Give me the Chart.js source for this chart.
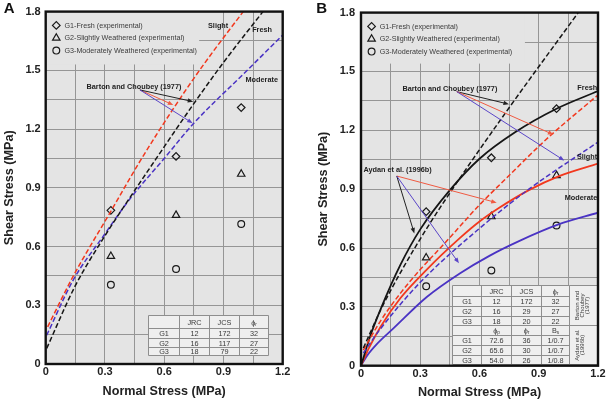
<!DOCTYPE html>
<html>
<head>
<meta charset="utf-8">
<script src="https://cdn.jsdelivr.net/npm/chart.js@4.4.1/dist/chart.umd.min.js"></script>
<style>
  html, body { margin: 0; padding: 0; background: #fff; }
  #wrap { position: relative; width: 609px; height: 401px; overflow: hidden; }
  canvas { position: absolute; top: 0; }
  #chartA { left: 0; }
  #chartB { left: 305px; }
</style>
</head>
<body>
<div id="wrap">
  <canvas id="chartA" width="305" height="401"></canvas>
  <canvas id="chartB" width="304" height="401"></canvas>
</div>
<script>
// experimental points (same in both panels)
const normalX = [0.33, 0.66, 0.99];
const g1Fresh = [0.785, 1.06, 1.31];
const g2Slight = [0.55, 0.76, 0.97];
const g3Moderate = [0.405, 0.485, 0.715];

// panel A - Barton and Choubey (1977)
const bcFreshAx = [0.005, 0.15, 0.30, 0.42, 0.56, 0.75, 0.90, 1.10];
const bcFreshAy = [0.08, 0.40, 0.655, 0.84, 1.05, 1.33, 1.54, 1.80];
const bcSlightAx = [0.01, 0.14, 0.33, 0.48, 0.65, 0.80, 1.0];
const bcSlightAy = [0.19, 0.45, 0.78, 1.04, 1.31, 1.53, 1.80];
const bcModAx = [0.005, 0.14, 0.30, 0.42, 0.60, 0.75, 1.0, 1.2];
const bcModAy = [0.147, 0.43, 0.665, 0.835, 1.05, 1.23, 1.48, 1.68];

// panel B - Barton and Choubey (dashed) and Aydan et al. (solid)
const bcFreshBx = [0.012, 0.1, 0.2, 0.333, 0.5, 0.75, 1.1];
const bcFreshBy = [0.09, 0.285, 0.475, 0.70, 0.955, 1.315, 1.8];
const bcSlightBx = [0.012, 0.1, 0.2, 0.3, 0.42, 0.6, 0.72, 0.95, 1.2];
const bcSlightBy = [0.08, 0.23, 0.37, 0.49, 0.62, 0.82, 0.94, 1.165, 1.38];
const bcModBx = [0.012, 0.1, 0.3, 0.6, 0.85, 1.2];
const bcModBy = [0.065, 0.19, 0.425, 0.70, 0.9, 1.14];
const ayFreshX = [0, 0.05, 0.1, 0.2, 0.3, 0.45, 0.6, 0.78, 0.99, 1.2];
const ayFreshY = [0, 0.16, 0.29, 0.515, 0.695, 0.895, 1.055, 1.19, 1.31, 1.40];
const aySlightX = [0, 0.04, 0.1, 0.2, 0.333, 0.5, 0.6, 0.7, 0.85, 1.0, 1.2];
const aySlightY = [0, 0.09, 0.2, 0.345, 0.49, 0.65, 0.735, 0.805, 0.895, 0.965, 1.03];
const ayModX = [0, 0.03, 0.08, 0.164, 0.333, 0.5, 0.65, 0.8, 1.0, 1.2];
const ayModY = [0, 0.05, 0.11, 0.19, 0.35, 0.47, 0.56, 0.635, 0.72, 0.78];

// parameter tables
const groups = ["G1", "G2", "G3"];
const jrc = [12, 16, 18];
const jcsA = [172, 117, 79];
const jcsB = [172, 29, 20];
const phiR = [32, 27, 22];
const aydanPhiP = ["72.6", "65.6", "54.0"];
const aydanPhi = [36, 30, 26];
const aydanB = ["1/0.7", "1/0.7", "1/0.8"];

const FONT = "Arial, 'Liberation Sans', Helvetica, sans-serif";
const corVermelho = "#f2381e";
const corAzul = "#4a33c4";
const corPreto = "#161616";
const fundo = "#e4e4e4";

const pts = (xs, ys) => xs.map((v, i) => ({ x: v, y: ys[i] }));

function curva(xs, ys, cor, tracejada) {
  return {
    data: pts(xs, ys),
    showLine: true,
    borderColor: cor,
    borderWidth: tracejada ? 1.5 : 1.8,
    borderDash: tracejada ? [5, 2.5] : [],
    pointRadius: 0,
    fill: false,
    cubicInterpolationMode: "monotone",
  };
}

function pontos(ys, estilo, raio) {
  return {
    data: pts(normalX, ys),
    showLine: false,
    pointStyle: estilo,
    pointRadius: raio,
    pointBorderColor: "#1a1a1a",
    pointBackgroundColor: "rgba(0,0,0,0)",
    pointBorderWidth: 1.2,
  };
}

const pontosExp = () => [
  pontos(g1Fresh, "rectRot", 3.8),
  pontos(g2Slight, "triangle", 4.3),
  pontos(g3Moderate, "circle", 3.4),
];

const legendas = [
  ["rectRot", 3.8, "G1-Fresh (experimental)"],
  ["triangle", 4.3, "G2-Slightly Weathered (experimental)"],
  ["circle", 3.4, "G3-Moderately Weathered (experimental)"],
];

// decorations per panel (positions in data units)
const decor = {
  chartA: {
    letra: "A", letraX: 9.2,
    caixaLegenda: [0.777, 1.53],
    tabela: {
      cols: [0.52, 0.674, 0.825, 0.977, 1.124],
      rows: [0.249, 0.186, 0.135, 0.088, 0.046],
      cells: [["", "JRC", "JCS", "ϕ_r"]].concat(groups.map((g, i) => [g, jrc[i], jcsA[i], phiR[i]])),
      lado: [],
    },
    setas: [
      { de: [0.477, 1.40], para: [0.646, 1.323], cor: "#f05a42" },
      { de: [0.477, 1.40], para: [0.747, 1.34], cor: "#222" },
      { de: [0.477, 1.40], para: [0.744, 1.23], cor: "#5b46c8" },
    ],
    textos: [
      { t: "Barton and Choubey (1977)", x: 0.447, y: 1.416, a: "center" },
      { t: "Slight", x: 0.873, y: 1.724, a: "center" },
      { t: "Fresh", x: 1.146, y: 1.704, a: "right" },
      { t: "Moderate", x: 1.176, y: 1.45, a: "right" },
    ],
  },
  chartB: {
    letra: "B", letraX: 16.7,
    caixaLegenda: [0.83, 1.54],
    tabela: {
      cols: [0.459, 0.606, 0.758, 0.91, 1.055, 1.199],
      rows: [0.409, 0.355, 0.306, 0.255, 0.205, 0.156, 0.105, 0.054, 0.009],
      cells: [["", "JRC", "JCS", "ϕ_r"]]
        .concat(groups.map((g, i) => [g, jrc[i], jcsB[i], phiR[i]]))
        .concat([["", "ϕ_p", "ϕ_r", "B_s"]])
        .concat(groups.map((g, i) => [g, aydanPhiP[i], aydanPhi[i], aydanB[i]])),
      lado: [
        { r0: 0, r1: 4, linhas: ["Barton and", "Choubey", "(1977)"] },
        { r0: 4, r1: 8, linhas: ["Aydan et al.", "(1996b)"] },
      ],
    },
    setas: [
      { de: [0.485, 1.397], para: [0.749, 1.333], cor: "#222" },
      { de: [0.485, 1.397], para: [0.974, 1.178], cor: "#f05a42" },
      { de: [0.485, 1.397], para: [1.029, 1.046], cor: "#5b46c8" },
      { de: [0.181, 0.967], para: [0.687, 0.831], cor: "#f05a42" },
      { de: [0.181, 0.967], para: [0.27, 0.674], cor: "#222" },
      { de: [0.181, 0.967], para: [0.496, 0.522], cor: "#5b46c8" },
    ],
    textos: [
      { t: "Barton and Choubey (1977)", x: 0.45, y: 1.409, a: "center" },
      { t: "Aydan et al. (1996b)", x: 0.185, y: 0.996, a: "center" },
      { t: "Fresh", x: 1.196, y: 1.418, a: "right" },
      { t: "Slight", x: 1.196, y: 1.063, a: "right" },
      { t: "Moderate", x: 1.196, y: 0.857, a: "right" },
    ],
  },
};

function marcador(ctx, estilo, r, x, y) {
  ctx.beginPath();
  if (estilo === "rectRot") {
    ctx.moveTo(x - r, y); ctx.lineTo(x, y - r); ctx.lineTo(x + r, y); ctx.lineTo(x, y + r); ctx.closePath();
  } else if (estilo === "triangle") {
    for (let k = 0; k < 3; k++) {
      const ang = -Math.PI / 2 + k * 2 * Math.PI / 3;
      const px = x + Math.cos(ang) * r, py = y + Math.sin(ang) * r;
      k ? ctx.lineTo(px, py) : ctx.moveTo(px, py);
    }
    ctx.closePath();
  } else {
    ctx.arc(x, y, r, 0, Math.PI * 2);
  }
  ctx.stroke();
}

// text with optional subscript, written "main_sub"
function textoSub(ctx, txt, x, y, size) {
  const [base, sub] = String(txt).split("_");
  ctx.font = size + "px " + FONT;
  const wb = ctx.measureText(base).width;
  let ws = 0;
  if (sub) { ctx.font = (size * 0.65) + "px " + FONT; ws = ctx.measureText(sub).width; }
  const x0 = x - (wb + ws) / 2;
  ctx.textAlign = "left";
  ctx.font = size + "px " + FONT;
  ctx.fillText(base, x0, y);
  if (sub) { ctx.font = (size * 0.65) + "px " + FONT; ctx.fillText(sub, x0 + wb, y + size * 0.3); }
}

function desenhaTabela(ctx, sx, sy, t) {
  const xs = t.cols.map((v) => Math.round(sx.getPixelForValue(v)) + 0.5);
  const ys = t.rows.map((v) => Math.round(sy.getPixelForValue(v)) + 0.5);
  const nMain = 4;
  ctx.save();
  ctx.fillStyle = "#efefef";
  ctx.fillRect(xs[0], ys[0], xs[xs.length - 1] - xs[0], ys[ys.length - 1] - ys[0]);
  ctx.strokeStyle = "#8e8e8e";
  ctx.lineWidth = 1;
  ctx.beginPath();
  ys.forEach((yy, r) => {
    ctx.moveTo(xs[0], yy); ctx.lineTo(xs[nMain], yy);
    const limite = r === 0 || r === ys.length - 1 || t.lado.some((s) => s.r0 === r);
    if (xs.length > nMain + 1 && limite) { ctx.moveTo(xs[nMain], yy); ctx.lineTo(xs[xs.length - 1], yy); }
  });
  xs.forEach((xx) => { ctx.moveTo(xx, ys[0]); ctx.lineTo(xx, ys[ys.length - 1]); });
  ctx.stroke();
  ctx.fillStyle = "#3a3a3a";
  ctx.textBaseline = "middle";
  t.cells.forEach((row, r) => {
    const cy = (ys[r] + ys[r + 1]) / 2 + 0.5;
    row.forEach((c, k) => textoSub(ctx, c, (xs[k] + xs[k + 1]) / 2, cy, 7.3));
  });
  t.lado.forEach((s) => {
    const cy = (ys[s.r0] + ys[s.r1]) / 2;
    ctx.font = "6px " + FONT;
    ctx.textAlign = "center";
    s.linhas.forEach((ln, i) => {
      ctx.save();
      ctx.translate(xs[nMain] + 7.5 + i * 5, cy);
      ctx.rotate(-Math.PI / 2);
      ctx.fillText(ln, 0, 0);
      ctx.restore();
    });
  });
  ctx.restore();
}

const decorPlugin = {
  id: "decor",
  beforeDraw(chart) {
    const { ctx, chartArea: a } = chart;
    ctx.save();
    ctx.fillStyle = fundo;
    ctx.fillRect(a.left, a.top, a.right - a.left, a.bottom - a.top);
    ctx.restore();
  },
  beforeDatasetsDraw(chart) {
    const d = decor[chart.canvas.id];
    const { ctx, chartArea: a, scales: { x, y } } = chart;
    ctx.save();
    // legend area has no grid
    ctx.fillStyle = fundo;
    const lx = x.getPixelForValue(d.caixaLegenda[0]);
    const ly = y.getPixelForValue(d.caixaLegenda[1]);
    ctx.fillRect(a.left, a.top, lx - a.left, ly - a.top);
    ctx.restore();
    desenhaTabela(ctx, x, y, d.tabela);
  },
  afterDatasetsDraw(chart) {
    const d = decor[chart.canvas.id];
    const { ctx, chartArea: a, scales: { x, y } } = chart;
    ctx.save();
    // arrows
    d.setas.forEach((s) => {
      const x0 = x.getPixelForValue(s.de[0]), y0 = y.getPixelForValue(s.de[1]);
      const x1 = x.getPixelForValue(s.para[0]), y1 = y.getPixelForValue(s.para[1]);
      const ang = Math.atan2(y1 - y0, x1 - x0);
      ctx.strokeStyle = s.cor; ctx.fillStyle = s.cor; ctx.lineWidth = 1;
      ctx.beginPath(); ctx.moveTo(x0, y0);
      ctx.lineTo(x1 - Math.cos(ang) * 4, y1 - Math.sin(ang) * 4); ctx.stroke();
      ctx.beginPath();
      ctx.moveTo(x1, y1);
      ctx.lineTo(x1 - Math.cos(ang) * 5.5 + Math.sin(ang) * 2.2, y1 - Math.sin(ang) * 5.5 - Math.cos(ang) * 2.2);
      ctx.lineTo(x1 - Math.cos(ang) * 5.5 - Math.sin(ang) * 2.2, y1 - Math.sin(ang) * 5.5 + Math.cos(ang) * 2.2);
      ctx.closePath(); ctx.fill();
    });
    // curve labels
    ctx.fillStyle = "#222";
    ctx.font = "bold 7.3px " + FONT;
    ctx.textBaseline = "middle";
    d.textos.forEach((t) => {
      ctx.textAlign = t.a;
      ctx.fillText(t.t, x.getPixelForValue(t.x), y.getPixelForValue(t.y));
    });
    // legend
    ctx.strokeStyle = "#1a1a1a"; ctx.lineWidth = 1.2;
    legendas.forEach(([estilo, r, txt], i) => {
      const ly = a.top + 13.8 + i * 12.6;
      marcador(ctx, estilo, r, a.left + 10.6, ly);
      ctx.fillStyle = "#3a3a3a";
      ctx.font = "7.2px " + FONT;
      ctx.textAlign = "left";
      ctx.fillText(txt, a.left + 18.7, ly + 0.3);
    });
    ctx.restore();
  },
  afterDraw(chart) {
    const d = decor[chart.canvas.id];
    const { ctx, chartArea: a } = chart;
    ctx.save();
    ctx.strokeStyle = "#111";
    ctx.lineWidth = 2.4;
    ctx.strokeRect(a.left, a.top, a.right - a.left, a.bottom - a.top);
    ctx.fillStyle = "#111";
    ctx.font = "bold 15px " + FONT;
    ctx.textAlign = "center";
    ctx.textBaseline = "middle";
    ctx.fillText(d.letra, d.letraX, 8.5);
    ctx.restore();
  },
};

const rotulo = (v, i) => (i % 2 ? "" : v === 0 ? "0" : v.toFixed(1));

function criarGrafico(id, datasets, lay) {
  const fonteTick = { family: FONT, size: 11, weight: "bold" };
  const fonteTitulo = { family: FONT, size: 12.6, weight: "bold" };
  return new Chart(document.getElementById(id), {
    type: "scatter",
    data: { datasets },
    plugins: [decorPlugin],
    options: {
      responsive: false,
      animation: false,
      events: [],
      layout: { padding: { left: 0, top: lay.top, right: lay.right, bottom: 0 } },
      plugins: { legend: { display: false }, tooltip: { enabled: false } },
      scales: {
        x: {
          type: "linear", min: 0, max: 1.2,
          ticks: { stepSize: 0.15, autoSkip: false, maxRotation: 0, padding: lay.xPad, color: "#222", font: fonteTick, callback: rotulo },
          grid: { color: "#959595", lineWidth: 1, drawTicks: false },
          border: { display: false },
          title: { display: true, text: "Normal Stress (MPa)", color: "#222", font: fonteTitulo, padding: { top: 0, bottom: lay.xTitle } },
          afterFit: (s) => { s.height = lay.xH; },
        },
        y: {
          type: "linear", min: 0, max: 1.8,
          ticks: { stepSize: 0.15, autoSkip: false, padding: lay.yPad, color: "#222", font: fonteTick, callback: rotulo },
          grid: { color: "#959595", lineWidth: 1, drawTicks: false },
          border: { display: false },
          title: { display: true, text: "Shear Stress (MPa)", color: "#222", font: fonteTitulo, padding: { top: lay.yTitle, bottom: 0 } },
          afterFit: (s) => { s.width = lay.yW; },
        },
      },
    },
  });
}

criarGrafico("chartA", [
  curva(bcSlightAx, bcSlightAy, corVermelho, true),
  curva(bcFreshAx, bcFreshAy, corPreto, true),
  curva(bcModAx, bcModAy, corAzul, true),
  ...pontosExp(),
], { top: 9, right: 22.3, yW: 45.7, xH: 37, yPad: 5, xPad: 1.1, xTitle: 1.7, yTitle: 1.5 });

criarGrafico("chartB", [
  curva(bcFreshBx, bcFreshBy, corPreto, true),
  curva(bcSlightBx, bcSlightBy, corVermelho, true),
  curva(bcModBx, bcModBy, corAzul, true),
  curva(ayFreshX, ayFreshY, corPreto, false),
  curva(aySlightX, aySlightY, corVermelho, false),
  curva(ayModX, ayModY, corAzul, false),
  ...pontosExp(),
], { top: 10, right: 11, yW: 56, xH: 35.3, yPad: 6, xPad: 1.7, xTitle: 0.7, yTitle: 11 });
</script>
</body>
</html>
